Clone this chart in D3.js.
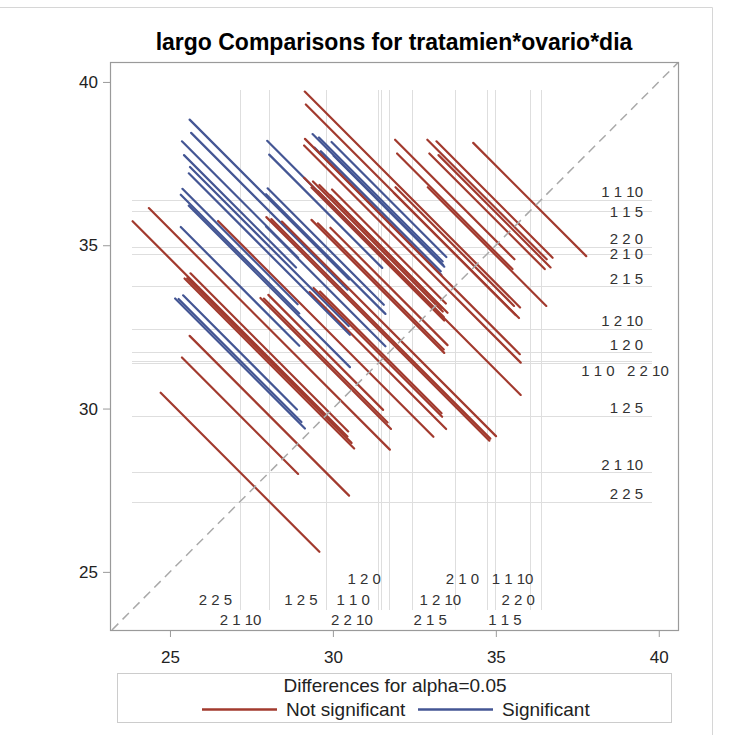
<!DOCTYPE html>
<html>
<head>
<meta charset="utf-8">
<script src="https://cdn.jsdelivr.net/npm/d3@7/dist/d3.min.js"></script>
<style>
  body { margin: 0; background: #fff; }
  text { font-family: "Liberation Sans", Arial, sans-serif; }
</style>
</head>
<body>
<svg id="chart" width="729" height="735"></svg>
<script>
// levels of tratamien*ovario*dia, their LS-means and standard errors
const levels = ["1 1 0", "1 1 5", "1 1 10", "1 2 0", "1 2 5", "1 2 10",
                "2 1 0", "2 1 5", "2 1 10", "2 2 0", "2 2 5", "2 2 10"];
const lsMeans = [31.38, 36.04, 36.40, 31.72, 29.78, 32.44,
                 34.73, 33.74, 28.05, 34.96, 27.15, 31.47];
const stdErrs = [1.55, 1.18, 1.27, 1.22, 1.27, 3.05,
                 1.32, 1.32, 2.09, 1.25, 1.25, 1.41];
const tCrit = 2.0;

const xTicks = [25, 30, 35, 40];
const yTicks = [25, 30, 35, 40];
const titleText = "largo Comparisons for tratamien*ovario*dia";
const legendTitle = "Differences for alpha=0.05";
const legendLabels = ["Not significant", "Significant"];

const red = "#A23A2E", blue = "#445694";
const frame = {left: 110, top: 62, right: 678, bottom: 630};

const svg = d3.select("#chart");

const x = d3.scaleLinear().domain([23.16, 40.59]).range([frame.left, frame.right]);
const y = d3.scaleLinear().domain([23.22, 40.61]).range([frame.bottom, frame.top]);

// outer graph border
svg.append("path")
    .attr("d", "M0,7.5H712.5V735")
    .attr("fill", "none").attr("stroke", "#d6d6d6");

// title
svg.append("text")
    .attr("x", 394).attr("y", 50)
    .attr("text-anchor", "middle")
    .style("font-size", "23px").style("font-weight", "bold")
    .attr("fill", "#000")
    .text(titleText);

svg.append("clipPath").attr("id", "plotclip")
  .append("rect")
    .attr("x", frame.left).attr("y", frame.top)
    .attr("width", frame.right - frame.left).attr("height", frame.bottom - frame.top);

const plot = svg.append("g").attr("clip-path", "url(#plotclip)");

// reference lines at each LS-mean
plot.append("g").selectAll("line")
    .data(lsMeans)
    .join("line")
    .attr("x1", frame.left + 22).attr("x2", frame.right - 26)
    .attr("y1", d => Math.round(y(d)) + 0.5).attr("y2", d => Math.round(y(d)) + 0.5)
    .attr("stroke", "#dedede").attr("stroke-width", 1);

plot.append("g").selectAll("line")
    .data(lsMeans)
    .join("line")
    .attr("y1", frame.top + 28).attr("y2", frame.bottom - 20)
    .attr("x1", d => Math.round(x(d)) + 0.5).attr("x2", d => Math.round(x(d)) + 0.5)
    .attr("stroke", "#dedede").attr("stroke-width", 1);

// pairwise differences
const pairs = [];
for (let i = 0; i < levels.length; i++) {
    for (let j = i + 1; j < levels.length; j++) {
        const lo = lsMeans[i] <= lsMeans[j] ? i : j;
        const hi = lo === i ? j : i;
        const hw = tCrit * Math.sqrt(stdErrs[i] ** 2 + stdErrs[j] ** 2);
        pairs.push({
            cx: lsMeans[lo], cy: lsMeans[hi], hw: hw,
            sig: Math.abs(lsMeans[i] - lsMeans[j]) > hw
        });
    }
}

plot.append("g").selectAll("line")
    .data(pairs)
    .join("line")
    .attr("x1", d => x(d.cx - d.hw / 2)).attr("y1", d => y(d.cy + d.hw / 2))
    .attr("x2", d => x(d.cx + d.hw / 2)).attr("y2", d => y(d.cy - d.hw / 2))
    .attr("stroke", d => d.sig ? blue : red)
    .attr("stroke-width", 2.2)
    .attr("stroke-linecap", "round");

// diagonal y = x
const dlo = Math.max(x.domain()[0], y.domain()[0]), dhi = Math.min(x.domain()[1], y.domain()[1]);
plot.append("line")
    .attr("x1", x(dlo)).attr("y1", y(dlo))
    .attr("x2", x(dhi)).attr("y2", y(dhi))
    .attr("stroke", "#a9a9a9").attr("stroke-width", 1.5)
    .attr("stroke-dasharray", "9,6");

// right-hand labels for horizontal reference lines
const labelSize = 15;
const hLab = svg.append("g").style("font-size", labelSize + "px").attr("fill", "#333");
const hGroups = [];
levels.map((l, i) => ({label: l, idx: i, py: y(lsMeans[i])}))
    .sort((a, b) => a.py - b.py)
    .forEach(d => {
        const g = hGroups.find(g => Math.abs(g.py - d.py) < 4);
        if (g) g.items.push(d); else hGroups.push({py: d.py, items: [d]});
    });
const placedH = [];
hGroups.forEach(g => {
    const multi = g.items.length > 1;
    const cands = multi ? [g.py + 10, g.py - 8, g.py] : [g.py - 8, g.py, g.py + 10];
    let pos = cands.find(c => placedH.every(p => Math.abs(p - c) >= 12));
    if (pos === undefined) pos = cands[0];
    placedH.push(pos);
    hLab.append("text")
        .attr("x", multi ? 625 : 643).attr("y", pos)
        .attr("dy", "0.36em")
        .attr("text-anchor", multi ? "middle" : "end")
        .attr("xml:space", "preserve")
        .text(g.items.sort((a, b) => a.idx - b.idx).map(d => d.label).join("   "));
});

// bottom labels for vertical reference lines
const rows = [600, 620, 579];
const vLab = svg.append("g").style("font-size", labelSize + "px").attr("fill", "#333");
const placedV = [];
levels.map((l, i) => ({label: l, px: x(lsMeans[i])}))
    .sort((a, b) => a.px - b.px)
    .forEach(d => {
        const t = vLab.append("text").attr("dy", "0.36em").text(d.label);
        const w = t.node().getComputedTextLength();
        const starts = [d.px - 8 - w, d.px + 7, d.px - w / 2];
        let best = null;
        for (const s of starts) {
            for (const r of rows) {
                const ok = placedV.every(p => p.row !== r || s + w + 8 <= p.x0 || s >= p.x1 + 8);
                if (ok) { best = {x0: s, x1: s + w, row: r}; break; }
            }
            if (best) break;
        }
        if (!best) best = {x0: starts[2], x1: starts[2] + w, row: rows[0]};
        placedV.push(best);
        t.attr("x", best.x0).attr("y", best.row);
    });

// frame
svg.append("rect")
    .attr("x", frame.left + 0.5).attr("y", frame.top + 0.5)
    .attr("width", frame.right - frame.left).attr("height", frame.bottom - frame.top)
    .attr("fill", "none").attr("stroke", "#9a9a9a").attr("stroke-width", 1.2);

// axes
const yAxis = svg.append("g")
    .attr("transform", `translate(${frame.left},0)`)
    .call(d3.axisLeft(y).tickValues(yTicks).tickSize(7).tickPadding(5));
const xAxis = svg.append("g")
    .attr("transform", `translate(0,${frame.bottom})`)
    .call(d3.axisBottom(x).tickValues(xTicks).tickSize(7).tickPadding(14));
[xAxis, yAxis].forEach(a => {
    a.select(".domain").remove();
    a.selectAll("line").attr("stroke", "#9a9a9a");
    a.selectAll("text").attr("fill", "#222")
        .style("font-family", '"Liberation Sans", Arial, sans-serif')
        .style("font-size", "17px");
});

// legend
const lg = svg.append("g");
lg.append("rect")
    .attr("x", 117.5).attr("y", 673.5).attr("width", 554).attr("height", 49)
    .attr("fill", "none").attr("stroke", "#cccccc");
lg.append("text")
    .attr("x", 395).attr("y", 692)
    .attr("text-anchor", "middle")
    .style("font-size", "19px").attr("fill", "#222")
    .text(legendTitle);
const items = [
    {label: legendLabels[0], color: red, x0: 202},
    {label: legendLabels[1], color: blue, x0: 418}
];
items.forEach(it => {
    lg.append("line")
        .attr("x1", it.x0).attr("x2", it.x0 + 75)
        .attr("y1", 709.5).attr("y2", 709.5)
        .attr("stroke", it.color).attr("stroke-width", 2.5);
    lg.append("text")
        .attr("x", it.x0 + 84).attr("y", 716)
        .style("font-size", "19px").attr("fill", "#222")
        .text(it.label);
});
</script>
</body>
</html>
